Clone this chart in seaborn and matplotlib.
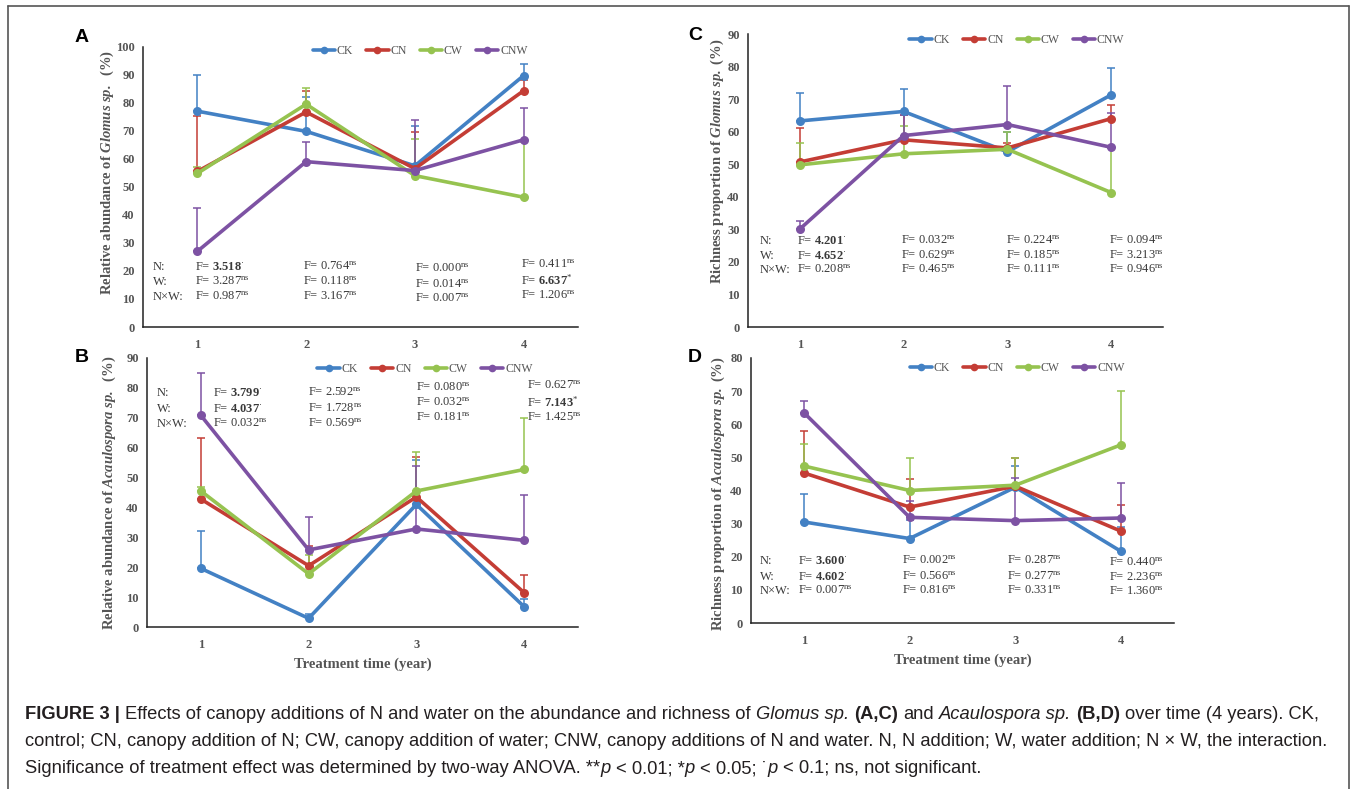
import numpy as np
import pandas as pd
import matplotlib
matplotlib.use("Agg")
import matplotlib.pyplot as plt
import seaborn as sns
from matplotlib.lines import Line2D

# ==========================================
# DATA
# ==========================================
years = [1, 2, 3, 4]
treatments = ["CK", "CN", "CW", "CNW"]
colors = ["#4381C4", "#C43D35", "#96C350", "#7D52A3"]

# panel A - relative abundance of Glomus sp.
a_ck = [77.0, 69.8, 57.5, 89.7]
a_cn = [55.5, 76.7, 56.5, 84.3]
a_cw = [54.8, 79.5, 54.0, 46.3]
a_cnw = [27.0, 59.0, 55.8, 66.8]
a_ck_up = [90.0, 82.2, 71.7, 94.0]
a_cn_up = [75.3, 84.3, 69.5, 88.0]
a_cw_up = [57.0, 85.2, 67.2, 66.1]
a_cnw_up = [42.5, 66.0, 73.8, 78.0]

# panel B - relative abundance of Acaulospora sp.
b_ck = [19.6, 2.9, 41.0, 6.8]
b_cn = [42.8, 20.5, 43.5, 11.5]
b_cw = [45.5, 17.8, 45.5, 52.7]
b_cnw = [70.8, 25.8, 32.8, 29.0]
b_ck_up = [32.2, 4.5, 56.0, 9.3]
b_cn_up = [63.3, 27.0, 57.0, 17.5]
b_cw_up = [47.0, 24.0, 58.7, 70.0]
b_cnw_up = [85.0, 36.7, 54.0, 44.0]

# panel C - richness proportion of Glomus sp.
c_ck = [63.3, 66.2, 53.8, 71.3]
c_cn = [50.7, 57.5, 55.0, 64.0]
c_cw = [49.8, 53.2, 54.6, 41.3]
c_cnw = [30.1, 58.8, 62.2, 55.2]
c_ck_up = [72.0, 73.0, 60.0, 79.7]
c_cn_up = [61.0, 65.0, 56.5, 68.3]
c_cw_up = [56.5, 61.7, 60.0, 55.0]
c_cnw_up = [32.6, 65.0, 74.0, 65.7]

# panel D - richness proportion of Acaulospora sp.
d_ck = [30.5, 25.5, 41.0, 21.6]
d_cn = [45.3, 35.0, 41.3, 27.7]
d_cw = [47.4, 40.0, 41.6, 53.8]
d_cnw = [63.5, 31.9, 30.9, 31.7]
d_ck_up = [39.0, 31.0, 47.3, 29.0]
d_cn_up = [58.0, 43.5, 49.7, 35.6]
d_cw_up = [54.0, 49.9, 49.9, 70.0]
d_cnw_up = [67.0, 36.8, 43.7, 42.2]

# ANOVA F values (value, significance, bold)
a_stats = [
    [("3.518", "·", True), ("3.287", "ns", False), ("0.987", "ns", False)],
    [("0.764", "ns", False), ("0.118", "ns", False), ("3.167", "ns", False)],
    [("0.000", "ns", False), ("0.014", "ns", False), ("0.007", "ns", False)],
    [("0.411", "ns", False), ("6.637", "*", True), ("1.206", "ns", False)],
]
b_stats = [
    [("3.799", "·", True), ("4.037", "·", True), ("0.032", "ns", False)],
    [("2.592", "ns", False), ("1.728", "ns", False), ("0.569", "ns", False)],
    [("0.080", "ns", False), ("0.032", "ns", False), ("0.181", "ns", False)],
    [("0.627", "ns", False), ("7.143", "*", True), ("1.425", "ns", False)],
]
c_stats = [
    [("4.201", "·", True), ("4.652", "·", True), ("0.208", "ns", False)],
    [("0.032", "ns", False), ("0.629", "ns", False), ("0.465", "ns", False)],
    [("0.224", "ns", False), ("0.185", "ns", False), ("0.111", "ns", False)],
    [("0.094", "ns", False), ("3.213", "ns", False), ("0.946", "ns", False)],
]
d_stats = [
    [("3.600", "·", True), ("4.602", "·", True), ("0.007", "ns", False)],
    [("0.002", "ns", False), ("0.566", "ns", False), ("0.816", "ns", False)],
    [("0.287", "ns", False), ("0.277", "ns", False), ("0.331", "ns", False)],
    [("0.440", "ns", False), ("2.236", "ns", False), ("1.360", "ns", False)],
]
stat_labels = ["N:", "W:", "N×W:"]

# ==========================================
# STYLE
# ==========================================
sns.set_style("white")
plt.rcParams["font.family"] = ["Liberation Serif", "DejaVu Serif"]
plt.rcParams["mathtext.fontset"] = "custom"
plt.rcParams["mathtext.rm"] = "Liberation Serif"
plt.rcParams["mathtext.it"] = "Liberation Serif:italic"
plt.rcParams["mathtext.bf"] = "Liberation Serif:bold"
plt.rcParams["mathtext.bfit"] = "Liberation Serif:italic:bold"

TXT = "#3a3a3a"
W, H = 1357, 789

fig = plt.figure(figsize=(W / 100, H / 100), dpi=100)


def px_axes(left, right, top, bottom):
    return fig.add_axes([left / W, 1 - bottom / H, (right - left) / W, (bottom - top) / H])


def draw_panel(ax, means, ups, ymax, ystep, ylabel, show_xlabel):
    rows = []
    for t, vals in zip(treatments, means):
        for yr, v in zip(years, vals):
            rows.append({"year": yr, "value": v, "trt": t})
    df = pd.DataFrame(rows)

    # upper error bars behind the lines
    for c, vals, up in zip(colors, means, ups):
        err = np.array(up) - np.array(vals)
        ax.errorbar(years, vals, yerr=[np.zeros(4), err], fmt="none",
                    ecolor=c, elinewidth=1.1, capsize=3, capthick=1.1, zorder=1)

    sns.lineplot(data=df, x="year", y="value", hue="trt", palette=colors,
                 hue_order=treatments, marker="o", markersize=6.5,
                 markeredgewidth=0, linewidth=2.6, errorbar=None,
                 legend=False, ax=ax, zorder=3)

    ax.set_xlim(0.5, 4.5)
    ax.set_ylim(0, ymax)
    ax.set_xticks(years)
    ax.set_yticks(np.arange(0, ymax + 1, ystep))
    sns.despine(ax=ax)
    for s in ["left", "bottom"]:
        ax.spines[s].set_color("#222222")
        ax.spines[s].set_linewidth(1.1)
    ax.tick_params(direction="in", length=4, width=1, color="#222222",
                   labelsize=9, labelcolor="#555555", pad=6)
    ax.tick_params(axis="x", pad=9)
    for lab in ax.get_xticklabels() + ax.get_yticklabels():
        lab.set_fontweight("bold")
    ax.set_ylabel(ylabel, fontsize=10.5, fontweight="bold", color="#555555")
    if show_xlabel:
        ax.set_xlabel("Treatment time (year)", fontsize=10.5, fontweight="bold",
                      color="#555555", labelpad=4)
    else:
        ax.set_xlabel("")


def draw_legend(ax, x, y):
    handles = [Line2D([0], [0], color=c, lw=2.6, marker="o", markersize=5.5,
                      markeredgewidth=0) for c in colors]
    leg = ax.legend(handles, treatments, loc="center", bbox_to_anchor=(x, y),
                    ncol=4, frameon=False, fontsize=8.5, handlelength=1.9,
                    handletextpad=0.15, columnspacing=1.1)
    for t in leg.get_texts():
        t.set_color("#555555")


def draw_stats(ax, stats, label_x, col_x, col_y):
    for i, lab in enumerate(stat_labels):
        ax.text(label_x, col_y[0][i], lab, fontsize=9, color=TXT, va="center")
    for j, col in enumerate(stats):
        for i, (val, sig, bold) in enumerate(col):
            if bold:
                s = "F= $\\mathbf{" + val + "}^{\\mathrm{" + sig + "}}$"
            else:
                s = "F= " + val + "$^{\\mathrm{" + sig + "}}$"
            ax.text(col_x[j], col_y[j][i], s, fontsize=9, color=TXT, va="center")


# ==========================================
# PANELS
# ==========================================
ax_a = px_axes(143, 578, 46.7, 327)
draw_panel(ax_a, [a_ck, a_cn, a_cw, a_cnw], [a_ck_up, a_cn_up, a_cw_up, a_cnw_up],
           100, 10, "Relative abundance of $\\mathbfit{Glomus\\ sp.}$  (%)", False)
draw_legend(ax_a, 0.637, 0.985)
draw_stats(ax_a, a_stats, 0.59, [0.977, 1.968, 3.0, 3.977],
           [[21.4, 16.1, 10.7], [21.4, 16.1, 10.7], [20.7, 15.0, 10.0], [22.3, 16.8, 11.0]])

ax_b = px_axes(147, 578, 358, 627)
draw_panel(ax_b, [b_ck, b_cn, b_cw, b_cnw], [b_ck_up, b_cn_up, b_cw_up, b_cnw_up],
           90, 10, "Relative abundance of $\\mathbfit{Acaulospora\\ sp.}$  (%)", True)
draw_legend(ax_b, 0.645, 0.959)
draw_stats(ax_b, b_stats, 0.593, [1.11, 1.99, 3.0, 4.03],
           [[78.3, 73.0, 67.9], [78.3, 73.0, 67.9], [80.0, 75.0, 70.0], [80.6, 75.3, 70.0]])

ax_c = px_axes(748, 1163, 34, 327)
draw_panel(ax_c, [c_ck, c_cn, c_cw, c_cnw], [c_ck_up, c_cn_up, c_cw_up, c_cnw_up],
           90, 10, "Richness proportion of $\\mathbfit{Glomus\\ sp.}$ (%)", False)
draw_legend(ax_c, 0.648, 0.98)
draw_stats(ax_c, c_stats, 0.615, [0.97, 1.97, 2.99, 3.98],
           [[26.4, 21.8, 17.5]] * 4)

ax_d = px_axes(751, 1174, 358, 623)
draw_panel(ax_d, [d_ck, d_cn, d_cw, d_cnw], [d_ck_up, d_cn_up, d_cw_up, d_cnw_up],
           80, 10, "Richness proportion of $\\mathbfit{Acaulospora\\ sp.}$ (%)", True)
draw_legend(ax_d, 0.629, 0.962)
draw_stats(ax_d, d_stats, 0.585, [0.94, 1.925, 2.92, 3.89],
           [[18.7, 13.9, 9.7], [18.7, 13.9, 9.7], [18.7, 13.9, 9.7], [18.1, 13.6, 9.4]])

# y label positions (x is the right edge of the rotated label)
ax_a.yaxis.set_label_coords((116 - 143) / 435, 0.55)
ax_b.yaxis.set_label_coords((118 - 147) / 431, 0.5)
ax_c.yaxis.set_label_coords((726 - 748) / 415, 0.565)
ax_d.yaxis.set_label_coords((727 - 751) / 423, 0.49)

# panel letters
for letter, x, y in [("A", 75, 37), ("B", 75, 357), ("C", 688, 35), ("D", 688, 357)]:
    fig.text(x / W, 1 - y / H, letter, fontsize=14, fontweight="bold",
             family="Liberation Sans", color="black", ha="left", va="center")

# outer frame
for xs, ys in [([8, 8], [6, 800]), ([1349, 1349], [6, 800]), ([8, 1349], [6, 6])]:
    fig.add_artist(Line2D([x / W for x in xs], [1 - y / H for y in ys],
                          color="#555555", lw=1.2))

# ==========================================
# CAPTION
# ==========================================
renderer = fig.canvas.get_renderer()
cap_size = 13.2
styles = {
    "n": dict(family="Liberation Sans", fontsize=cap_size),
    "b": dict(family="Liberation Sans", fontsize=cap_size, fontweight="bold"),
    "i": dict(family="Liberation Sans", fontsize=cap_size, style="italic"),
}


def text_width(s, st):
    t = fig.text(0, 0, s, **styles[st])
    w = t.get_window_extent(renderer).width
    t.remove()
    return w


space_w = {k: text_width("x x", k) - text_width("xx", k) for k in styles}


def caption_line(segments, x0, y):
    x = x0
    for s, st in segments:
        core = s.strip(" ")
        if not core:
            x += len(s) * space_w[st]
            continue
        lead = len(s) - len(s.lstrip(" "))
        trail = len(s) - len(s.rstrip(" "))
        x += lead * space_w[st]
        t = fig.text(x / W, 1 - y / H, core, color="#231f20", va="baseline",
                     ha="left", **styles[st])
        x += t.get_window_extent(renderer).width
        x += trail * space_w[st]


caption_line([("FIGURE 3 |", "b"),
              (" Effects of canopy additions of N and water on the abundance and richness of ", "n"),
              ("Glomus sp.", "i"), (" ", "n"), ("(A,C)", "b"), (" and ", "n"),
              ("Acaulospora sp.", "i"), (" ", "n"), ("(B,D)", "b"),
              (" over time (4 years). CK,", "n")], 25, 719)
caption_line([("control; CN, canopy addition of N; CW, canopy addition of water; CNW, canopy "
               "additions of N and water. N, N addition; W, water addition; N × W, the interaction.",
               "n")], 25, 746)
caption_line([("Significance of treatment effect was determined by two-way ANOVA. **", "n"),
              ("p", "i"), (" < 0.01; *", "n"), ("p", "i"), (" < 0.05; ˙", "n"), ("p", "i"),
              (" < 0.1; ns, not significant.", "n")], 25, 773)

fig.savefig("out.png", dpi=100)
